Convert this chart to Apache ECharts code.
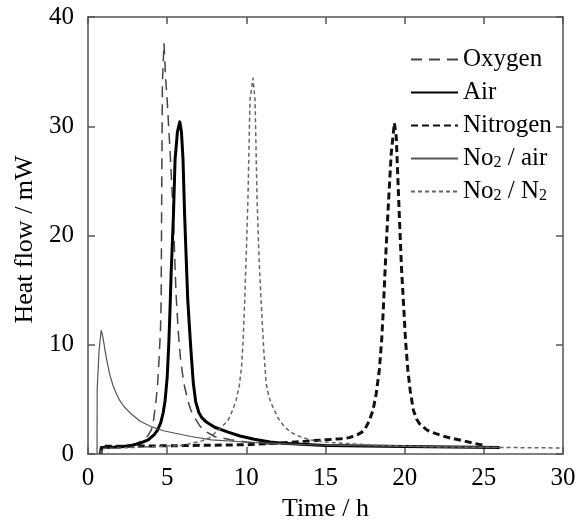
<!DOCTYPE html>
<html>
<head>
<meta charset="utf-8">
<script src="https://cdn.jsdelivr.net/npm/echarts@6/dist/echarts.min.js"></script>
<style>
  html, body { margin: 0; padding: 0; background: #fff; }
  #chart { width: 586px; height: 529px; }
</style>
</head>
<body>
<div id="chart"></div>
<script>
// Heat flow curves (time in h, heat flow in mW)
const oxygenT = [0.8, 0.85, 2, 3, 3.5, 3.8, 4.0, 4.15, 4.3, 4.4, 4.5, 4.58, 4.62, 4.66, 4.7, 4.8, 4.9, 5.0, 5.18, 5.37, 5.56, 5.7, 5.85, 6.05, 6.3, 6.5, 6.7, 7.1, 7.5, 8.0, 9, 10, 11, 12];
const oxygenV = [0, 0.6, 0.7, 0.9, 1.3, 1.7, 2.2, 3.2, 4.9, 6.5, 9, 11.5, 14.1, 25, 34, 37.6, 34.5, 32.4, 27.8, 22.3, 14.7, 11.2, 8.6, 6.5, 4.9, 4.0, 3.4, 2.5, 2.0, 1.6, 1.3, 1.1, 0.95, 0.9];

const airT = [0.8, 0.85, 2.0, 2.8, 3.3, 3.8, 4.2, 4.4, 4.6, 4.75, 4.87, 5.0, 5.1, 5.18, 5.25, 5.4, 5.5, 5.65, 5.8, 5.9, 6.0, 6.1, 6.2, 6.3, 6.5, 6.65, 6.8, 7.0, 7.2, 7.5, 8.0, 8.85, 9.6, 10.5, 11.5, 12.6, 15, 20, 26];
const airV = [0, 0.6, 0.65, 0.8, 1.0, 1.3, 1.8, 2.2, 2.9, 3.8, 4.9, 7, 10, 13.2, 16.5, 22, 27, 29.5, 30.4, 29.5, 27, 22, 18, 14.1, 9.5, 6.5, 4.8, 3.8, 3.3, 2.9, 2.45, 2.0, 1.65, 1.35, 1.1, 0.95, 0.78, 0.68, 0.6];

const nitrogenT = [0.8, 0.85, 5, 10, 12, 14, 15, 16, 16.5, 17.0, 17.3, 17.5, 17.75, 18.0, 18.2, 18.4, 18.55, 18.65, 18.8, 18.95, 19.15, 19.35, 19.47, 19.55, 19.65, 19.8, 19.95, 20.05, 20.2, 20.35, 20.55, 20.75, 20.95, 21.4, 21.8, 22.3, 22.9, 23.6, 24.3, 25];
const nitrogenV = [0, 0.7, 0.75, 0.85, 1.0, 1.2, 1.3, 1.4, 1.5, 1.75, 2.0, 2.3, 3.0, 4.0, 5.5, 7.7, 10.5, 13.2, 18, 22.3, 27.5, 30.3, 29, 26, 22.3, 17, 13.2, 10.5, 7.7, 5.8, 4.0, 3.2, 2.75, 2.2, 1.95, 1.7, 1.45, 1.25, 1.0, 0.8];

const no2AirT = [0.57, 0.58, 0.7, 0.83, 0.9, 1.0, 1.07, 1.2, 1.35, 1.57, 1.8, 2.0, 2.3, 2.7, 3.3, 4.0, 4.7, 5.5, 6.5, 7.8, 9.9, 12, 15, 20, 26];
const no2AirV = [0, 5.9, 9.5, 11.3, 11.0, 10.2, 9.5, 8.5, 7.4, 6.3, 5.5, 4.9, 4.3, 3.7, 3.0, 2.5, 2.15, 1.9, 1.6, 1.3, 1.1, 0.95, 0.8, 0.7, 0.6];

const no2N2T = [0.8, 0.85, 3, 6, 7.2, 7.7, 8.0, 8.4, 8.85, 9.1, 9.35, 9.55, 9.7, 9.8, 9.9, 10.0, 10.1, 10.23, 10.42, 10.55, 10.68, 10.8, 10.93, 11.1, 11.25, 11.4, 11.55, 11.8, 12.0, 12.4, 12.8, 13.2, 14, 15, 16.5, 18, 22, 26, 30];
const no2N2V = [0, 0.5, 0.6, 0.8, 1.2, 1.5, 1.9, 2.4, 3.1, 3.9, 4.9, 6.2, 8, 10.5, 14.1, 18.5, 23.2, 32.4, 34.4, 32.4, 23.2, 18, 14.1, 9.5, 6.5, 5.4, 4.7, 3.9, 3.3, 2.5, 2.0, 1.7, 1.3, 1.1, 0.95, 0.8, 0.65, 0.6, 0.55];

const seriesNames = ['Oxygen', 'Air', 'Nitrogen', 'No2 / air', 'No2 / N2'];
const xTicks = [0, 5, 10, 15, 20, 25, 30];
const yTicks = [0, 10, 20, 30, 40];

const font = "'Liberation Serif', 'DejaVu Serif', serif";
const axisGray = '#555';

function pairs(t, v) {
    return t.map((x, i) => [x, v[i]]);
}

const chart = echarts.init(document.getElementById('chart'));

const baseX = {
    type: 'value',
    min: xTicks[0],
    max: xTicks[xTicks.length - 1],
    interval: 5,
    axisLine: { show: true, onZero: false, lineStyle: { color: axisGray, width: 1.5 } },
    axisTick: { show: true, inside: true, length: 7, lineStyle: { color: axisGray, width: 1.5 } },
    splitLine: { show: false }
};
const baseY = {
    type: 'value',
    min: yTicks[0],
    max: yTicks[yTicks.length - 1],
    interval: 10,
    axisLine: { show: true, onZero: false, lineStyle: { color: axisGray, width: 1.5 } },
    axisTick: { show: true, inside: true, length: 7, lineStyle: { color: axisGray, width: 1.5 } },
    splitLine: { show: false }
};

const lineSeries = (name, data, color, width, type) => ({
    name: name,
    type: 'line',
    data: data,
    symbol: 'none',
    smooth: false,
    lineStyle: { color: color, width: width, type: type, join: 'round' },
    itemStyle: { color: color }
});

const option = {
    backgroundColor: '#fff',
    animation: false,
    grid: { left: 88, right: 23, top: 17, bottom: 75, containLabel: false },
    xAxis: [
        Object.assign({}, baseX, {
            position: 'bottom',
            name: 'Time / h',
            nameLocation: 'middle',
            nameGap: 41,
            nameTextStyle: { color: '#000', fontSize: 26, fontFamily: font },
            axisLabel: { color: '#000', fontSize: 25, fontFamily: font, margin: 12 }
        }),
        Object.assign({}, baseX, { position: 'top', axisLabel: { show: false } })
    ],
    yAxis: [
        Object.assign({}, baseY, {
            position: 'left',
            name: 'Heat flow / mW',
            nameLocation: 'middle',
            nameGap: 49,
            nameTextStyle: { color: '#000', fontSize: 26, fontFamily: font, padding: [0, 8, 0, 0] },
            axisLabel: { color: '#000', fontSize: 25, fontFamily: font, margin: 14 }
        }),
        Object.assign({}, baseY, { position: 'right', axisLabel: { show: false } })
    ],
    legend: {
        orient: 'vertical',
        left: 405,
        top: 42,
        itemWidth: 47,
        itemHeight: 14,
        itemGap: 8,
        data: seriesNames,
        itemStyle: { opacity: 0 },
        textStyle: {
            color: '#000',
            fontSize: 25,
            fontFamily: font,
            lineHeight: 25,
            rich: {
                sub: { fontSize: 16, fontFamily: font, color: '#000', verticalAlign: 'bottom', padding: [8, 0, 0, 0] }
            }
        },
        formatter: name => name.replace(/2/g, '{sub|2}')
    },
    series: [
        lineSeries(seriesNames[0], pairs(oxygenT, oxygenV), '#444', 1.5, [11, 7]),
        lineSeries(seriesNames[1], pairs(airT, airV), '#000', 3, 'solid'),
        lineSeries(seriesNames[2], pairs(nitrogenT, nitrogenV), '#111', 3, [7, 4]),
        lineSeries(seriesNames[3], pairs(no2AirT, no2AirV), '#555', 1.2, 'solid'),
        lineSeries(seriesNames[4], pairs(no2N2T, no2N2V), '#666', 1.5, [4, 3])
    ]
};

chart.setOption(option);
</script>
</body>
</html>
